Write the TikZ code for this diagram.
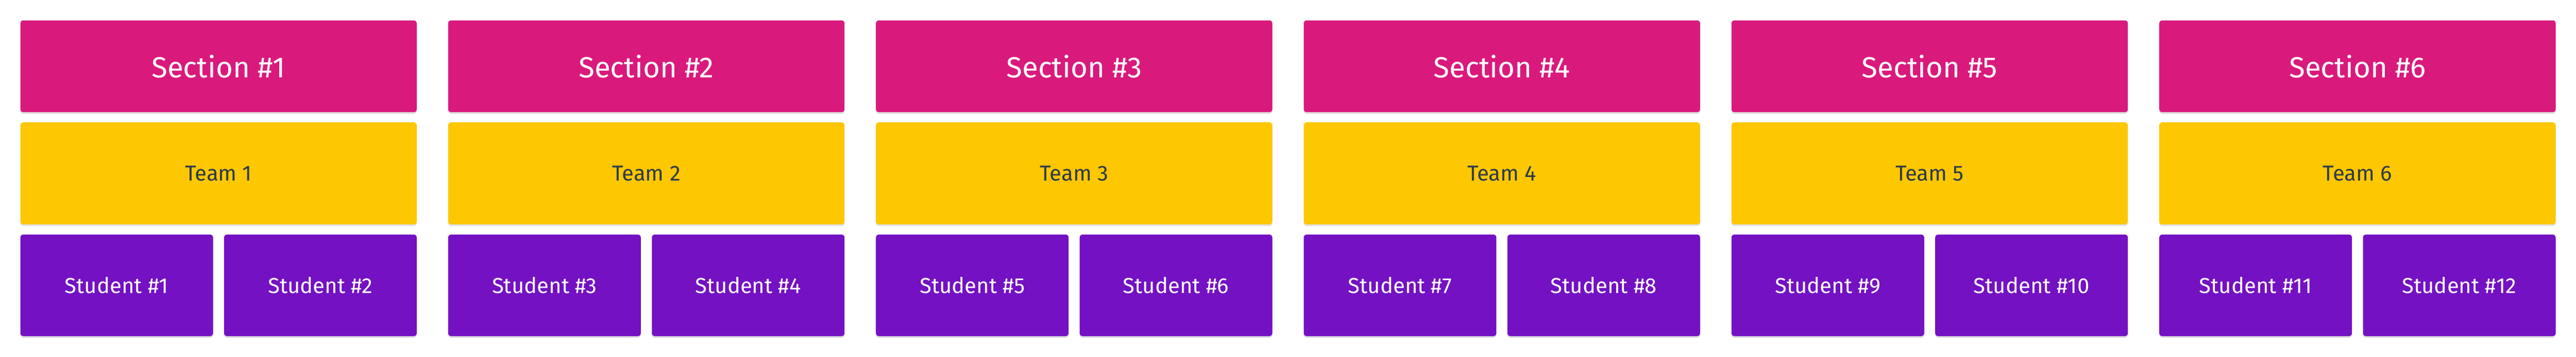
\documentclass[tikz,border=0pt]{standalone}
\usepackage{fontspec}
\setmainfont{Fira Sans}
\usetikzlibrary{shadows}
\definecolor{secpink}{HTML}{DA197C}
\definecolor{teamyellow}{HTML}{FDC702}
\definecolor{stupurple}{HTML}{7311C3}
\definecolor{teamtext}{HTML}{2E3A4B}

\begin{document}
\begin{tikzpicture}[
  cardbox/.style={rounded corners=0.07cm, inner sep=0pt,
    drop shadow={shadow xshift=0cm, shadow yshift=-0.04cm, opacity=0.12, fill=black}},
  secbox/.style={cardbox, fill=secpink, text=white, minimum width=9.34cm, minimum height=2.16cm,
    font=\fontsize{19.5}{23}\selectfont},
  teambox/.style={cardbox, fill=teamyellow, text=teamtext, minimum width=9.34cm, minimum height=2.40cm,
    font=\fontsize{14.5}{17}\selectfont},
  stubox/.style={cardbox, fill=stupurple, text=white, minimum width=4.54cm, minimum height=2.39cm,
    font=\fontsize{14.5}{17}\selectfont}]
\useasboundingbox (0,0) rectangle (60.7,8.4);

% sections
\node [secbox] (sec1) at (5.15,6.84) {Section \#1};
\node [secbox] (sec2) at (15.23,6.84) {Section \#2};
\node [secbox] (sec3) at (25.31,6.84) {Section \#3};
\node [secbox] (sec4) at (35.39,6.84) {Section \#4};
\node [secbox] (sec5) at (45.47,6.84) {Section \#5};
\node [secbox] (sec6) at (55.55,6.84) {Section \#6};

% teams
\node [teambox] (team1) at (5.15,4.32) {Team 1};
\node [teambox] (team2) at (15.23,4.32) {Team 2};
\node [teambox] (team3) at (25.31,4.32) {Team 3};
\node [teambox] (team4) at (35.39,4.32) {Team 4};
\node [teambox] (team5) at (45.47,4.32) {Team 5};
\node [teambox] (team6) at (55.55,4.32) {Team 6};

% students
\node [stubox] (stu1) at (2.75,1.685) {Student \#1};
\node [stubox] (stu2) at (7.55,1.685) {Student \#2};
\node [stubox] (stu3) at (12.83,1.685) {Student \#3};
\node [stubox] (stu4) at (17.63,1.685) {Student \#4};
\node [stubox] (stu5) at (22.91,1.685) {Student \#5};
\node [stubox] (stu6) at (27.71,1.685) {Student \#6};
\node [stubox] (stu7) at (32.99,1.685) {Student \#7};
\node [stubox] (stu8) at (37.79,1.685) {Student \#8};
\node [stubox] (stu9) at (43.07,1.685) {Student \#9};
\node [stubox] (stu10) at (47.87,1.685) {Student \#10};
\node [stubox] (stu11) at (53.15,1.685) {Student \#11};
\node [stubox] (stu12) at (57.95,1.685) {Student \#12};
\end{tikzpicture}
\end{document}
